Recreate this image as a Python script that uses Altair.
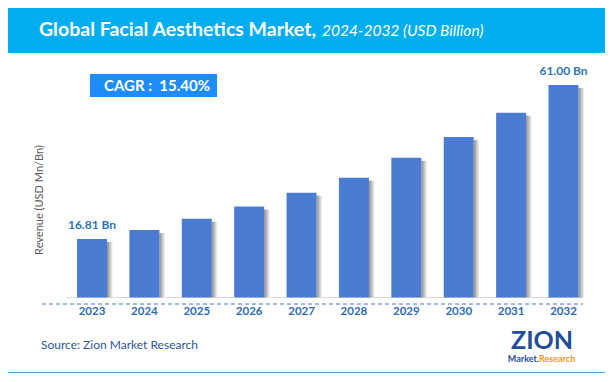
import altair as alt
import pandas as pd

years = [2023, 2024, 2025, 2026, 2027, 2028, 2029, 2030, 2031, 2032]
values = [16.81, 19.4, 22.6, 26.1, 30.1, 34.4, 40.1, 46.1, 53.0, 61.00]
value_labels = ["16.81 Bn", "", "", "", "", "", "", "", "", "61.00 Bn"]
year_labels = [str(y) for y in years]

title_main = "Global Facial Aesthetics Market,"
title_sub = "2024-2032 (USD Billion)"
cagr_text = "CAGR :\u00a0\u00a015.40%"
y_title = "Revenue (USD Mn/Bn)"
source_text = "Source: Zion Market Research"

df = pd.DataFrame({"year": years, "value": values, "label": value_labels, "ylab": year_labels})
lab_df = df[df["label"] != ""]

W, H = 597, 366
FONT = "Lato"

xs = alt.Scale(domain=[2023, 2032], range=[84, 555.5], zero=False, nice=False, padding=0)
ys = alt.Scale(domain=[0, 61], range=[289.5, 77], zero=False, nice=False)
X = alt.X("year:Q", scale=xs, axis=None)
Y = alt.Y("value:Q", scale=ys, axis=None)

one = pd.DataFrame({"a": [0]})

frame = alt.Chart(one).mark_rect(fill="white", stroke="#5B9BD5", strokeWidth=1).encode(
    x=alt.value(-0.5), x2=alt.value(597.5), y=alt.value(-0.5), y2=alt.value(364.5))
band = alt.Chart(one).mark_rect(fill="#00AEEF").encode(
    x=alt.value(0), x2=alt.value(597), y=alt.value(0), y2=alt.value(45))
t1 = alt.Chart(one).mark_text(text=title_main, font=FONT, fontSize=19.5, fontWeight="bold",
                              color="white", align="right", baseline="middle").encode(
    x=alt.value(308), y=alt.value(22))
t2 = alt.Chart(one).mark_text(text=title_sub, font=FONT, fontSize=15.5, fontStyle="italic",
                              color="white", align="left", baseline="middle").encode(
    x=alt.value(314), y=alt.value(23))

cagr_box = alt.Chart(one).mark_rect(fill="#1E8CFF").encode(
    x=alt.value(82), x2=alt.value(209), y=alt.value(66), y2=alt.value(89))
cagr = alt.Chart(one).mark_text(text=cagr_text, font=FONT, fontSize=15, fontWeight="bold",
                                color="white", align="center", baseline="middle").encode(
    x=alt.value(149), y=alt.value(78))

grid = alt.Chart(one).mark_rule(color="#D9D9D9", strokeWidth=1).encode(
    x=alt.value(59), x2=alt.value(575), y=alt.value(289.5))
dash = alt.Chart(one).mark_rule(color="#4472C4", strokeWidth=1, strokeDash=[4, 3]).encode(
    x=alt.value(34), x2=alt.value(575), y=alt.value(296))

shadow = alt.Chart(df).mark_rect(
    xOffset=15, x2Offset=21, yOffset=3,
    color=alt.Gradient(gradient="linear", x1=0, x2=1, y1=0, y2=0,
                       stops=[alt.GradientStop(color="#8C8C8C", offset=0),
                              alt.GradientStop(color="#FFFFFF", offset=1)])
).encode(x=X, x2="year:Q", y=Y, y2=alt.Y2(datum=0))

bars = alt.Chart(df).mark_bar(size=30, color="#4A7CD4").encode(x=X, y=Y, y2=alt.Y2(datum=0))

vlabels = alt.Chart(lab_df).mark_text(font=FONT, fontSize=12, fontWeight="bold", color="#2E75B6",
                                      baseline="bottom", dy=-7).encode(x=X, y=Y, text="label:N")

xlabels = alt.Chart(df).mark_text(font=FONT, fontSize=11.5, fontWeight="bold", color="#2E6BB0",
                                  baseline="middle").encode(x=X, y=alt.value(304), text="ylab:N")

ytitle = alt.Chart(one).mark_text(text=y_title, font=FONT, fontSize=11, color="#595959", angle=270,
                                  align="center", baseline="middle").encode(
    x=alt.value(32), y=alt.value(192))

source = alt.Chart(one).mark_text(text=source_text, font=FONT, fontSize=12, color="#2F5597",
                                  align="left", baseline="middle").encode(
    x=alt.value(33), y=alt.value(337))

logo1 = alt.Chart(one).mark_text(text="ZION", font=FONT, fontSize=25, fontWeight="bold", color="#1F4E9C",
                                 align="center", baseline="middle").encode(
    x=alt.value(534), y=alt.value(333))
logo2 = alt.Chart(one).mark_text(text="Market.", font=FONT, fontSize=9, fontWeight="bold", color="#1F4E9C",
                                 align="right", baseline="middle").encode(
    x=alt.value(531), y=alt.value(351))
logo3 = alt.Chart(one).mark_text(text="Research", font=FONT, fontSize=9, fontWeight="bold", color="#F7941D",
                                 align="left", baseline="middle").encode(
    x=alt.value(531), y=alt.value(351))

chart = alt.layer(frame, band, t1, t2, cagr_box, cagr, grid, shadow, bars, dash, vlabels, xlabels,
                  ytitle, source, logo1, logo2, logo3).properties(
    width=W, height=H, autosize=alt.AutoSizeParams(type="none"), padding=0
).configure_view(strokeWidth=0)

chart.save("out.html", embed_options={"renderer": "svg", "actions": False})
